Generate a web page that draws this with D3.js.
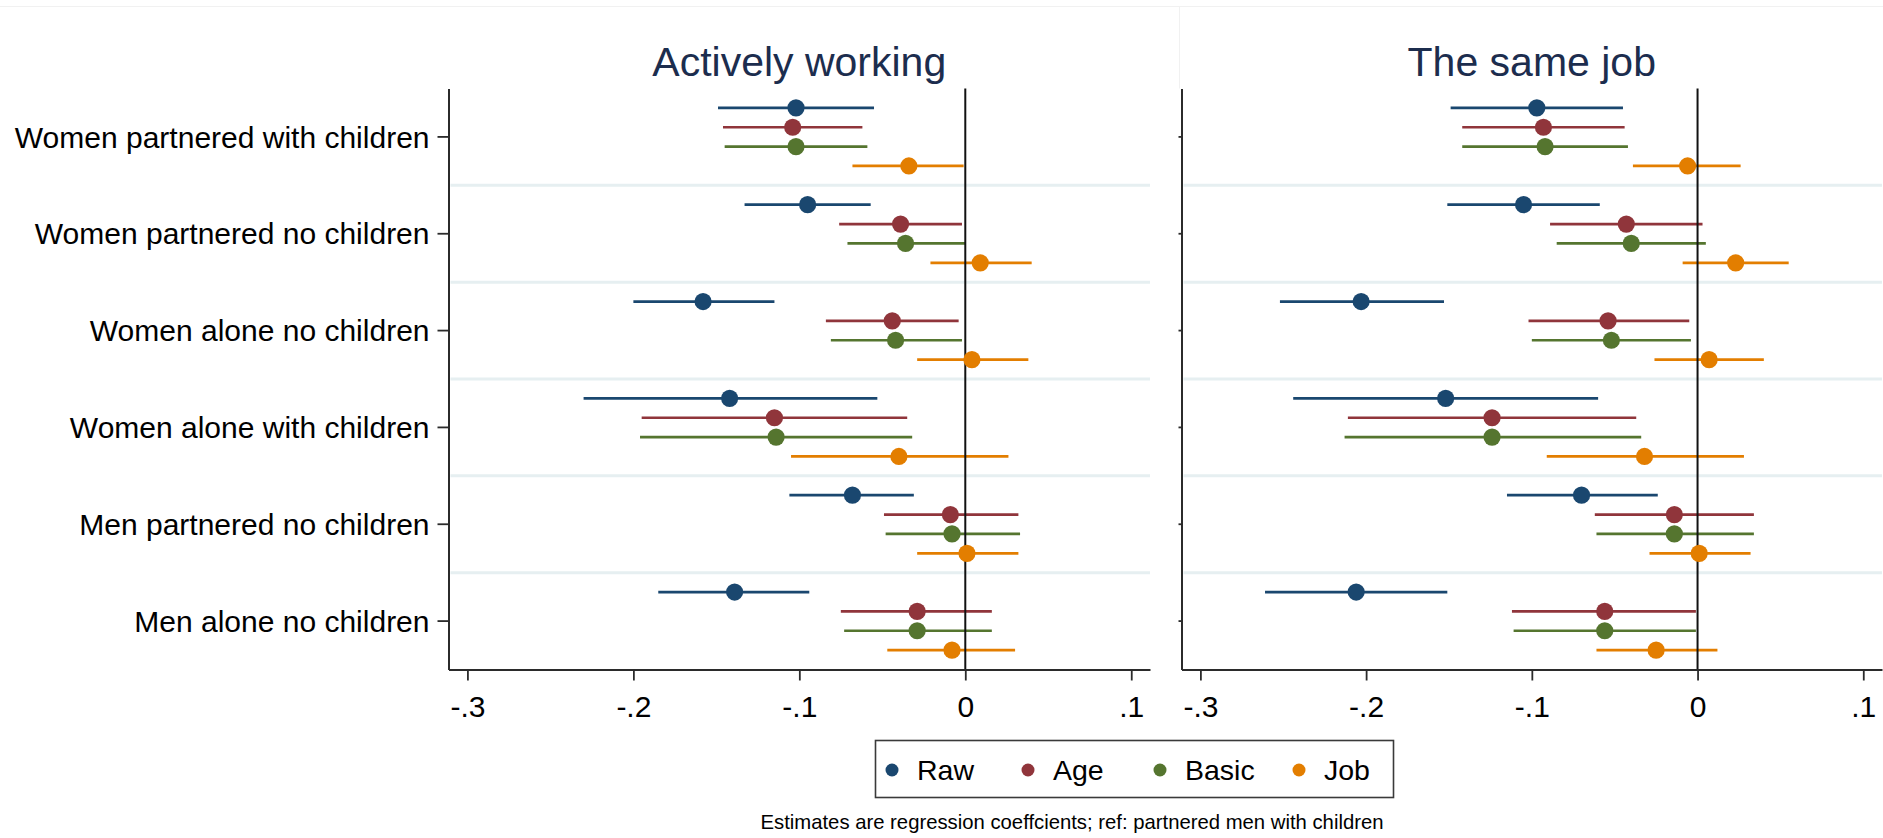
<!DOCTYPE html>
<html>
<head>
<meta charset="utf-8">
<script src="https://cdn.jsdelivr.net/npm/d3@7"></script>
<style>
  html, body { margin: 0; padding: 0; background: #ffffff; }
  svg { display: block; font-family: "Liberation Sans", Arial, sans-serif; }
</style>
</head>
<body>
<svg id="chart" width="1883" height="838"></svg>
<script>
// ---------------- DATA ----------------
const categories = [
  "Women partnered with children",
  "Women partnered no children",
  "Women alone no children",
  "Women alone with children",
  "Men partnered no children",
  "Men alone no children"
];
const seriesNames = ["Raw", "Age", "Basic", "Job"];
const seriesColors = ["#1a476f", "#90353b", "#55752f", "#e37e00"];
const panelTitles = ["Actively working", "The same job"];
const xTickValues = [-0.3, -0.2, -0.1, 0, 0.1];
const xTickLabels = ["-.3", "-.2", "-.1", "0", ".1"];
const noteText = "Estimates are regression coeffcients; ref: partnered men with children";

// [estimate, lower, upper] per category — "Actively working"
const workRaw   = [[-0.102,-0.149,-0.055],[-0.095,-0.133,-0.057],[-0.158,-0.200,-0.115],[-0.142,-0.230,-0.053],[-0.068,-0.106,-0.031],[-0.139,-0.185,-0.094]];
const workAge   = [[-0.104,-0.146,-0.062],[-0.039,-0.076,-0.002],[-0.044,-0.084,-0.004],[-0.115,-0.195,-0.035],[-0.009,-0.049,0.032],[-0.029,-0.075,0.016]];
const workBasic = [[-0.102,-0.145,-0.059],[-0.036,-0.071,0.000],[-0.042,-0.081,-0.002],[-0.114,-0.196,-0.032],[-0.008,-0.048,0.033],[-0.029,-0.073,0.016]];
const workJob   = [[-0.034,-0.068,-0.001],[0.009,-0.021,0.040],[0.004,-0.029,0.038],[-0.040,-0.105,0.026],[0.001,-0.029,0.032],[-0.008,-0.047,0.030]];

// [estimate, lower, upper] per category — "The same job"
const jobRaw    = [[-0.097,-0.149,-0.045],[-0.105,-0.151,-0.059],[-0.203,-0.252,-0.153],[-0.152,-0.244,-0.060],[-0.070,-0.115,-0.024],[-0.206,-0.261,-0.151]];
const jobAge    = [[-0.093,-0.142,-0.044],[-0.043,-0.089,0.003],[-0.054,-0.102,-0.005],[-0.124,-0.211,-0.037],[-0.014,-0.062,0.034],[-0.056,-0.112,-0.001]];
const jobBasic  = [[-0.092,-0.142,-0.042],[-0.040,-0.085,0.005],[-0.052,-0.100,-0.004],[-0.124,-0.213,-0.034],[-0.014,-0.061,0.034],[-0.056,-0.111,-0.001]];
const jobJob    = [[-0.006,-0.039,0.026],[0.023,-0.009,0.055],[0.007,-0.026,0.040],[-0.032,-0.091,0.028],[0.001,-0.029,0.032],[-0.025,-0.061,0.012]];

const panelSeries = [
  [workRaw, workAge, workBasic, workJob],
  [jobRaw, jobAge, jobBasic, jobJob]
];

// ---------------- LAYOUT ----------------
const svg = d3.select("#chart");
const W = 1883, H = 838;
const plotTop = 88.5, plotBottom = 669.5;
const panels = [
  { x0: 448.5, x1: 1150 },
  { x0: 1181.5, x1: 1882 }
];
const xDomain = [-0.3114, 0.1113];
const offsets = [-0.3, -0.1, 0.1, 0.3];
const axisColor = "#2b2b2b";
const sepColor = "#e6eff1";
const titleColor = "#1c2d4e";

// faint graph region borders
svg.append("line").attr("x1", 0).attr("x2", W).attr("y1", 6.5).attr("y2", 6.5)
  .attr("stroke", "#f1f1f1").attr("stroke-width", 1);
svg.append("line").attr("x1", 1179.5).attr("x2", 1179.5).attr("y1", 6.5).attr("y2", plotTop)
  .attr("stroke", "#f1f1f1").attr("stroke-width", 1);

const y = d3.scaleBand().domain(categories).range([plotTop, plotBottom]).padding(0);

panels.forEach((p, pi) => {
  const x = d3.scaleLinear().domain(xDomain).range([p.x0, p.x1]);
  const g = svg.append("g");

  // separators between categories
  categories.slice(1).forEach(c => {
    g.append("line")
      .attr("x1", p.x0 + 2).attr("x2", p.x1)
      .attr("y1", y(c)).attr("y2", y(c))
      .attr("stroke", sepColor).attr("stroke-width", 3);
  });

  // CI lines
  panelSeries[pi].forEach((ser, si) => {
    g.selectAll(null).data(ser).enter().append("line")
      .attr("x1", d => x(d[1])).attr("x2", d => x(d[2]))
      .attr("y1", (d, i) => y(categories[i]) + y.bandwidth() * (0.5 + offsets[si]))
      .attr("y2", (d, i) => y(categories[i]) + y.bandwidth() * (0.5 + offsets[si]))
      .attr("stroke", seriesColors[si]).attr("stroke-width", 2.7);
  });

  // zero reference line
  g.append("line")
    .attr("x1", x(0)).attr("x2", x(0))
    .attr("y1", plotTop).attr("y2", plotBottom)
    .attr("stroke", "#111").attr("stroke-width", 2);

  // markers
  panelSeries[pi].forEach((ser, si) => {
    g.selectAll(null).data(ser).enter().append("circle")
      .attr("cx", d => x(d[0]))
      .attr("cy", (d, i) => y(categories[i]) + y.bandwidth() * (0.5 + offsets[si]))
      .attr("r", 8.6)
      .attr("fill", seriesColors[si]);
  });

  // x axis
  const xAxis = d3.axisBottom(x).tickValues(xTickValues)
    .tickFormat((d, i) => xTickLabels[i]).tickSize(11).tickPadding(0).tickSizeOuter(0);
  const ax = g.append("g").attr("transform", `translate(0,${plotBottom})`).call(xAxis);
  ax.select(".domain").attr("stroke", axisColor).attr("stroke-width", 2.2);
  ax.selectAll(".tick line").attr("stroke", axisColor).attr("stroke-width", 1.8);
  ax.selectAll(".tick text").attr("fill", "#000").attr("font-size", 30)
    .attr("dy", null).attr("y", 47);

  // y axis
  const yAxis = d3.axisLeft(y).tickSize(pi === 0 ? 11 : 3).tickSizeOuter(0)
    .tickPadding(8).tickFormat(pi === 0 ? (d => d) : (() => ""));
  const ay = g.append("g").attr("transform", `translate(${p.x0},0)`).call(yAxis);
  ay.select(".domain").attr("stroke", axisColor).attr("stroke-width", 2);
  ay.selectAll(".tick line").attr("stroke", axisColor).attr("stroke-width", 1.8);
  ay.selectAll(".tick text").attr("fill", "#000").attr("font-size", 30)
    .attr("dy", null).attr("y", 10.7).attr("x", -19);

  // title
  g.append("text")
    .attr("x", (p.x0 + p.x1) / 2).attr("y", 76)
    .attr("text-anchor", "middle")
    .attr("font-size", 41).attr("fill", titleColor)
    .text(panelTitles[pi]);
});

// ---------------- LEGEND ----------------
const legend = svg.append("g");
legend.append("rect")
  .attr("x", 875.5).attr("y", 740.5).attr("width", 518).attr("height", 57)
  .attr("fill", "#fff").attr("stroke", "#3a3a3a").attr("stroke-width", 1.6);
const legendX = [892, 1028, 1160, 1299];
seriesNames.forEach((s, i) => {
  legend.append("circle").attr("cx", legendX[i]).attr("cy", 770).attr("r", 6.5)
    .attr("fill", seriesColors[i]);
  legend.append("text").attr("x", legendX[i] + 25).attr("y", 780)
    .attr("font-size", 28.5).attr("fill", "#000").text(s);
});

// note
svg.append("text")
  .attr("x", 1072).attr("y", 829)
  .attr("text-anchor", "middle").attr("font-size", 20.3).attr("fill", "#000")
  .text(noteText);
</script>
</body>
</html>
